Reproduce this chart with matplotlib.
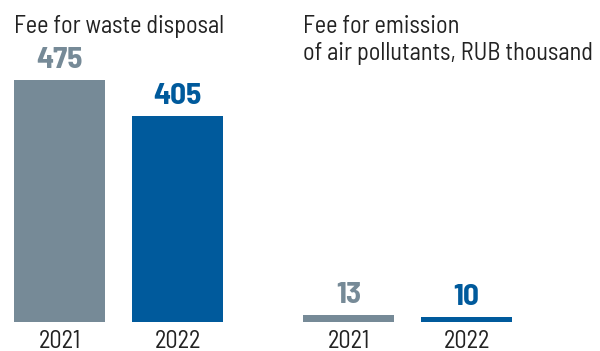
import matplotlib
matplotlib.use("Agg")
import matplotlib.pyplot as plt

years = ["2021", "2022"]
waste_fee = [475, 405]
air_fee = [13, 10]
title_waste = ["Fee for waste disposal"]
title_air = ["Fee for emission", "of air pollutants, RUB thousand"]
colors = ["#768A97", "#005A9C"]

FONT = ["Barlow Semi Condensed", "Barlow Condensed", "DejaVu Sans"]
W, H = 600, 351
fig = plt.figure(figsize=(W / 100, H / 100), dpi=100)

base = 322  # px from top
top = 80
bw = 91 / 118.0

def make_ax(left_px, right_px, values):
    ax = fig.add_axes([left_px / W, (H - base) / H, (right_px - left_px) / W, (base - top) / H])
    x = list(range(len(values)))
    ax.bar(x, values, width=bw, color=colors, linewidth=0)
    ax.set_xlim(-bw / 2, len(values) - 1 + bw / 2)
    ax.set_ylim(0, max(waste_fee))
    for s in ax.spines.values():
        s.set_visible(False)
    ax.set_yticks([])
    ax.set_xticks(x)
    ax.set_xticklabels(years, family=FONT, fontsize=17.5, color="#222222")
    ax.tick_params(axis="x", length=0, pad=5.5)
    for xi, v, c in zip(x, values, colors):
        ax.annotate(str(v), (xi, v), xytext=(0, 12), textcoords="offset pixels",
                    ha="center", va="baseline", family=FONT, fontweight="bold",
                    fontsize=22.5, color=c)
    ax.patch.set_visible(False)
    return ax

make_ax(14, 223, waste_fee)
make_ax(303, 512, air_fee)

for i, line in enumerate(title_waste):
    fig.text(14 / W, 1 - (33 + 27 * i) / H, line, family=FONT, fontsize=17.5,
             color="#222222", ha="left", va="baseline")
for i, line in enumerate(title_air):
    fig.text(303 / W, 1 - (33 + 27 * i) / H, line, family=FONT, fontsize=17.5,
             color="#222222", ha="left", va="baseline")

fig.savefig("out.png", dpi=100)
